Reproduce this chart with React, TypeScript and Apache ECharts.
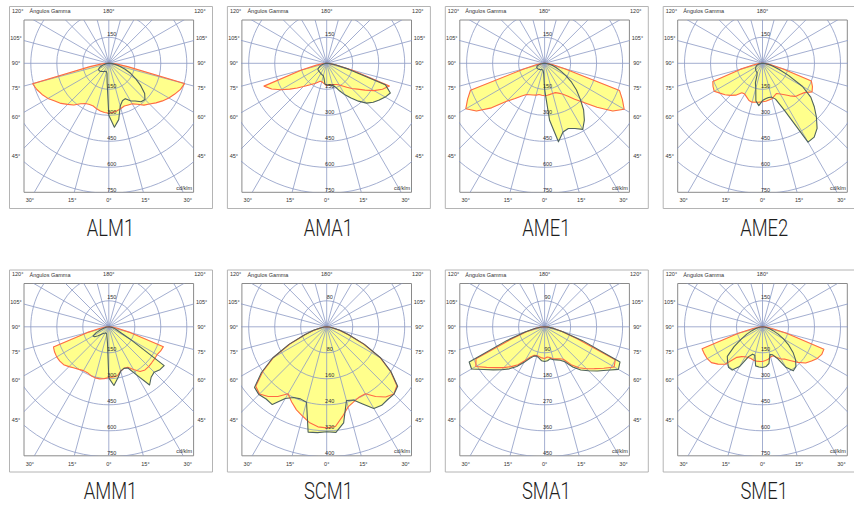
import React, { useEffect, useRef } from "react";
import * as echarts from "echarts";

// ---------- data ----------
const panelNames = ["ALM1", "AMA1", "AME1", "AME2", "AMM1", "SCM1", "SMA1", "SME1"];
const panelSteps = [150, 150, 150, 150, 150, 80, 90, 150]; // radial grid step (cd/klm)
const radialTicks = [1, 2, 3, 4, 5]; // multiples of step shown below the centre
const gammaAngles = [0, 5, 10, 15, 20, 25, 30, 35, 40, 45, 50, 55, 60, 65, 70, 75, 80, 85, 90];
const sideAngleLabels = [0, 15, 30, 45, 60, 75, 90, 105, 120];
const topAngleLabel = 180;
const headerText = "Ángulos Gamma";
const unitText = "cd/klm";

// C0-C180 plane (orange) and C90-C270 plane (dark), values per gamma angle, left / right half
const ALM1_c0_left = [288, 285, 280, 272, 262, 262, 268, 285, 314, 335, 360, 380, 405, 425, 442, 455, 110, 40, 0];
const ALM1_c0_right = [288, 284, 278, 270, 262, 265, 270, 288, 315, 332, 355, 378, 400, 420, 440, 452, 110, 40, 0];
const ALM1_c90_left = [300, 110, 60, 50, 52, 50, 55, 58, 62, 66, 69, 70, 68, 60, 45, 30, 20, 10, 0];
const ALM1_c90_right = [300, 370, 330, 255, 230, 225, 250, 265, 290, 295, 270, 225, 180, 140, 100, 65, 40, 20, 0];

const AMA1_c0_left = [130, 120, 115, 110, 110, 120, 135, 148, 165, 190, 222, 260, 305, 350, 385, 150, 60, 25, 0];
const AMA1_c0_right = [130, 125, 125, 128, 130, 135, 145, 160, 180, 205, 232, 270, 315, 355, 385, 150, 55, 20, 0];
const AMA1_c90_left = [125, 120, 88, 75, 72, 70, 68, 66, 65, 64, 63, 62, 55, 45, 35, 25, 15, 8, 0];
const AMA1_c90_right = [125, 125, 128, 132, 145, 175, 210, 245, 285, 325, 350, 370, 390, 405, 360, 130, 50, 20, 0];

const AME1_c0_left = [187, 185, 183, 190, 195, 200, 208, 230, 265, 310, 400, 480, 525, 490, 455, 120, 50, 20, 0];
const AME1_c0_right = [187, 185, 182, 180, 180, 190, 205, 230, 270, 320, 395, 480, 530, 495, 460, 120, 50, 20, 0];
const AME1_c90_left = [150, 60, 45, 40, 40, 40, 42, 44, 46, 48, 50, 52, 52, 50, 45, 35, 25, 12, 0];
const AME1_c90_right = [150, 330, 460, 410, 400, 415, 440, 400, 350, 290, 240, 190, 140, 100, 70, 45, 25, 10, 0];

const AME2_c0_left = [222, 225, 228, 232, 228, 215, 205, 208, 240, 262, 282, 300, 322, 315, 305, 130, 55, 22, 0];
const AME2_c0_right = [222, 220, 215, 212, 200, 192, 205, 222, 245, 270, 280, 295, 330, 318, 300, 120, 50, 20, 0];
const AME2_c90_left = [215, 245, 220, 150, 120, 75, 62, 60, 58, 55, 52, 48, 45, 40, 35, 28, 18, 8, 0];
const AME2_c90_right = [215, 205, 200, 202, 220, 300, 525, 520, 490, 440, 390, 340, 265, 165, 100, 60, 35, 15, 0];

const AMM1_c0_left = [292, 300, 305, 305, 300, 292, 292, 300, 310, 325, 340, 345, 347, 345, 340, 130, 50, 20, 0];
const AMM1_c0_right = [292, 290, 287, 265, 255, 258, 285, 315, 325, 325, 323, 322, 322, 330, 335, 130, 50, 20, 0];
const AMM1_c90_left = [295, 90, 60, 45, 40, 40, 42, 45, 50, 60, 80, 100, 105, 80, 50, 30, 20, 10, 0];
const AMM1_c90_right = [295, 340, 300, 265, 255, 262, 320, 410, 380, 370, 385, 390, 140, 70, 45, 30, 18, 8, 0];

const SCM1_c0_left = [311, 309, 300, 285, 272, 255, 238, 262, 280, 292, 285, 240, 189, 125, 70, 40, 20, 8, 0];
const SCM1_c0_right = [311, 308, 280, 255, 245, 238, 238, 262, 282, 292, 282, 240, 190, 125, 70, 40, 20, 8, 0];
const SCM1_c90_left = [323, 327, 329, 240, 236, 240, 255, 292, 290, 295, 290, 245, 192, 128, 72, 42, 20, 8, 0];
const SCM1_c90_right = [323, 326, 300, 235, 240, 262, 290, 295, 292, 293, 285, 242, 192, 128, 72, 42, 20, 8, 0];

const SMA1_c0_left = [110, 108, 105, 103, 105, 115, 135, 160, 180, 200, 220, 245, 275, 262, 120, 65, 32, 14, 0];
const SMA1_c0_right = [110, 105, 108, 115, 118, 122, 130, 160, 185, 205, 225, 250, 278, 270, 120, 60, 30, 12, 0];
const SMA1_c90_left = [120, 118, 110, 105, 108, 120, 142, 168, 190, 210, 232, 258, 292, 288, 140, 70, 35, 15, 0];
const SMA1_c90_right = [120, 118, 112, 118, 122, 128, 140, 170, 195, 215, 238, 262, 295, 288, 140, 65, 32, 12, 0];

const SME1_c0_left = [200, 200, 201, 200, 195, 195, 200, 210, 230, 305, 335, 360, 368, 370, 371, 140, 55, 20, 0];
const SME1_c0_right = [200, 195, 190, 180, 178, 195, 215, 228, 255, 290, 325, 345, 365, 377, 377, 140, 55, 20, 0];
const SME1_c90_left = [235, 233, 229, 170, 168, 190, 265, 305, 305, 285, 265, 200, 140, 100, 65, 40, 22, 10, 0];
const SME1_c90_right = [235, 230, 215, 165, 172, 200, 270, 310, 300, 270, 230, 185, 140, 100, 65, 40, 22, 10, 0];

const curvesC0 = [
  [ALM1_c0_left, ALM1_c0_right], [AMA1_c0_left, AMA1_c0_right], [AME1_c0_left, AME1_c0_right], [AME2_c0_left, AME2_c0_right],
  [AMM1_c0_left, AMM1_c0_right], [SCM1_c0_left, SCM1_c0_right], [SMA1_c0_left, SMA1_c0_right], [SME1_c0_left, SME1_c0_right],
];
const curvesC90 = [
  [ALM1_c90_left, ALM1_c90_right], [AMA1_c90_left, AMA1_c90_right], [AME1_c90_left, AME1_c90_right], [AME2_c90_left, AME2_c90_right],
  [AMM1_c90_left, AMM1_c90_right], [SCM1_c90_left, SCM1_c90_right], [SMA1_c90_left, SMA1_c90_right], [SME1_c90_left, SME1_c90_right],
];

// ---------- layout / style ----------
const CANVAS_W = 854;
const CANVAS_H = 506;
const FRAME_X0 = 9;
const FRAME_DX = 217.9;
const FRAME_Y = [6, 269.5];
const FRAME_W = 203;
const FRAME_H = 202;
const CX = 99.8; // centre inside frame
const CY = 57.3;
const PX_STEP = 26; // pixels per radial step
const BOX_HALF_W = 84.8;
const BOX_TOP = 43.3; // px above centre
const BOX_BOTTOM = 129; // px below centre
const LBL_SIDE = 92.8;
const LBL_BOTTOM = 136.7;
const LBL_TOP = 52.6;

const FILL = "#ffff8c";
const C0_COLOR = "#ff6a45";
const C90_COLOR = "#4e6262";
const GRID_COLOR = "#8c99c4";
const TXT = "#333333";
const SMALL_FONT = "'Liberation Sans', Arial, sans-serif";

function toXY(g: number, v: number) {
  const r = (g * Math.PI) / 180;
  return [v * Math.sin(r), -v * Math.cos(r)];
}

function curveData(pair: number[][]) {
  const [left, right] = pair;
  const out: number[][] = [];
  for (let i = left.length - 1; i >= 0; i--) out.push([-gammaAngles[i], left[i]]);
  for (let i = 0; i < right.length; i++) out.push([gammaAngles[i], right[i]]);
  return out;
}

function buildOption() {
  const grid: any[] = [];
  const xAxis: any[] = [];
  const yAxis: any[] = [];
  const series: any[] = [];
  const graphic: any[] = [];

  panelNames.forEach((name, p) => {
    const col = p % 4;
    const row = Math.floor(p / 4);
    const fx = FRAME_X0 + col * FRAME_DX;
    const fy = FRAME_Y[row];
    const step = panelSteps[p];
    const u = step / PX_STEP; // data units per pixel

    grid.push({
      left: fx + CX - BOX_HALF_W,
      top: fy + CY - BOX_TOP,
      width: BOX_HALF_W * 2,
      height: BOX_TOP + BOX_BOTTOM,
      show: true,
      borderColor: "#8a8a8a",
      borderWidth: 1,
      backgroundColor: "#ffffff",
    });
    xAxis.push({ gridIndex: p, type: "value", min: -BOX_HALF_W * u, max: BOX_HALF_W * u, show: false });
    yAxis.push({ gridIndex: p, type: "value", min: -BOX_BOTTOM * u, max: BOX_TOP * u, show: false });

    const c0 = curveData(curvesC0[p]);
    const c90 = curveData(curvesC90[p]);

    const mkCurve = (data: number[][], mode: "fill" | "stroke", color: string, z: number) => ({
      type: "custom",
      coordinateSystem: "cartesian2d",
      xAxisIndex: p,
      yAxisIndex: p,
      clip: true,
      silent: true,
      z,
      data,
      renderItem: (params: any, api: any) => {
        if (params.dataIndex !== 0) return null;
        const pts = data.map(([g, v]) => api.coord(toXY(g, v)));
        if (mode === "fill") {
          return { type: "polygon", shape: { points: pts }, style: { fill: FILL, stroke: FILL, lineWidth: 0.5 } };
        }
        return {
          type: "polyline",
          shape: { points: pts.concat([pts[0]]) },
          style: { stroke: color, fill: null, lineWidth: 1.1, lineJoin: "round" },
        };
      },
    });

    series.push(mkCurve(c0, "fill", C0_COLOR, 2));
    series.push(mkCurve(c90, "fill", C90_COLOR, 2));

    // polar grid
    series.push({
      type: "custom",
      coordinateSystem: "cartesian2d",
      xAxisIndex: p,
      yAxisIndex: p,
      clip: true,
      silent: true,
      z: 3,
      data: [[0, 0]],
      renderItem: (params: any, api: any) => {
        const c = api.coord([0, 0]);
        const pxStep = api.size([step, 0])[0];
        const children: any[] = [];
        for (let k = 1; k <= 6; k++) {
          children.push({
            type: "circle",
            shape: { cx: c[0], cy: c[1], r: k * pxStep },
            style: { fill: null, stroke: GRID_COLOR, lineWidth: 0.8 },
          });
        }
        for (let a = 0; a < 360; a += 15) {
          const r = (a * Math.PI) / 180;
          children.push({
            type: "line",
            shape: { x1: c[0], y1: c[1], x2: c[0] + Math.sin(r) * 400, y2: c[1] + Math.cos(r) * 400 },
            style: { stroke: GRID_COLOR, lineWidth: 0.8 },
          });
        }
        return { type: "group", children };
      },
    });

    series.push(mkCurve(c0, "stroke", C0_COLOR, 4));
    series.push(mkCurve(c90, "stroke", C90_COLOR, 4));

    // radial value labels
    const radialData = radialTicks.map((k) => [0, -k * step]).concat([[0, step]]);
    series.push({
      type: "custom",
      coordinateSystem: "cartesian2d",
      xAxisIndex: p,
      yAxisIndex: p,
      clip: false,
      silent: true,
      z: 5,
      data: radialData,
      renderItem: (params: any, api: any) => {
        const v = api.value(1);
        const pt = api.coord([0, v]);
        return {
          type: "text",
          x: pt[0] + 3,
          y: pt[1] - 0.5,
          style: {
            text: String(Math.abs(v)),
            fontSize: 5.5,
            fontFamily: SMALL_FONT,
            fill: TXT,
            align: "center",
            verticalAlign: "bottom",
          },
        };
      },
    });

    // angle labels around the box (skip those that would fall outside the picture)
    const angleData: number[][] = [];
    sideAngleLabels.forEach((a) => {
      angleData.push([-a]);
      if (a !== 0) angleData.push([a]);
    });
    angleData.push([topAngleLabel]);
    series.push({
      type: "custom",
      coordinateSystem: "cartesian2d",
      xAxisIndex: p,
      yAxisIndex: p,
      clip: false,
      silent: true,
      z: 5,
      data: angleData,
      dimensions: ["x"],
      encode: { x: 0 },
      renderItem: (params: any, api: any) => {
        const a = angleData[params.dataIndex][0];
        const c = api.coord([0, 0]);
        const r = (a * Math.PI) / 180;
        const dx = Math.sin(r);
        const dy = Math.cos(r); // screen: positive = downward
        let t = Infinity;
        if (Math.abs(dx) > 1e-6) t = Math.min(t, LBL_SIDE / Math.abs(dx));
        if (dy > 1e-6) t = Math.min(t, LBL_BOTTOM / dy);
        if (dy < -1e-6) t = Math.min(t, LBL_TOP / -dy);
        const x = c[0] + dx * t;
        if (x + 6 > CANVAS_W) return null;
        return {
          type: "text",
          x,
          y: c[1] + dy * t,
          style: {
            text: Math.abs(a) + "°",
            fontSize: 5.5,
            fontFamily: SMALL_FONT,
            fill: TXT,
            align: "center",
            verticalAlign: "middle",
          },
        };
      },
    });

    // frame, header, unit, title
    graphic.push({
      type: "rect",
      shape: { x: fx + 0.5, y: fy + 0.5, width: FRAME_W, height: FRAME_H },
      style: { fill: null, stroke: "#b4b4b4", lineWidth: 1 },
      silent: true,
      z: 10,
    });
    graphic.push({
      type: "text",
      x: fx + 20.5,
      y: fy + 5,
      style: { text: headerText, fontSize: 5.5, fontFamily: SMALL_FONT, fill: TXT, align: "left", verticalAlign: "middle" },
      silent: true,
      z: 10,
    });
    graphic.push({
      type: "text",
      x: fx + CX + BOX_HALF_W - 1.5,
      y: fy + CY + BOX_BOTTOM - 1.5,
      style: { text: unitText, fontSize: 5.5, fontFamily: SMALL_FONT, fill: TXT, align: "right", verticalAlign: "bottom" },
      silent: true,
      z: 10,
    });
    graphic.push({
      type: "text",
      x: fx + FRAME_W / 2,
      y: fy + 222,
      scaleX: 0.8,
      style: {
        text: name,
        fontSize: 23,
        fontWeight: 300,
        fontFamily: "Roboto, 'Liberation Sans', sans-serif",
        fill: "#1e1e1e",
        align: "center",
        verticalAlign: "middle",
      },
      silent: true,
      z: 10,
    });
  });

  return {
    animation: false,
    backgroundColor: "#ffffff",
    grid,
    xAxis,
    yAxis,
    series,
    graphic: { elements: graphic },
  };
}

export default function App() {
  const ref = useRef<HTMLDivElement>(null);
  useEffect(() => {
    if (!ref.current) return;
    const chart = echarts.init(ref.current, undefined, { renderer: "svg" });
    chart.setOption(buildOption() as any);
    return () => chart.dispose();
  }, []);
  return <div ref={ref} style={{ position: "absolute", left: 0, top: 0, width: CANVAS_W, height: CANVAS_H }} />;
}
